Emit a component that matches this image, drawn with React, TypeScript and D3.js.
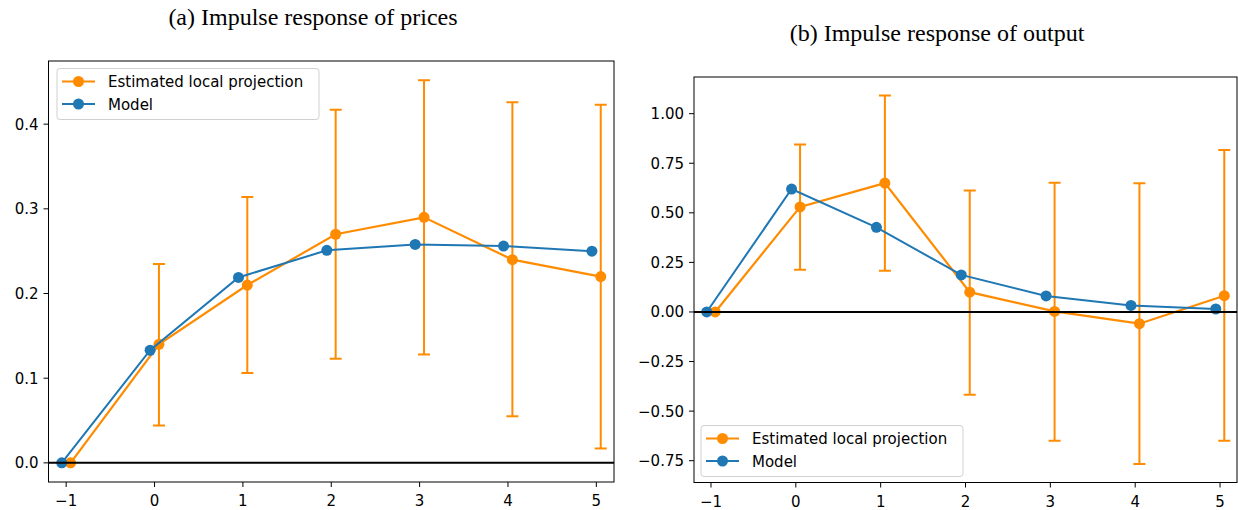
import * as d3 from "d3";

const steps = [-1, 0, 1, 2, 3, 4, 5];
const xTicks = [-1, 0, 1, 2, 3, 4, 5];

// (a) prices
const pricesLP = [0, 0.14, 0.21, 0.27, 0.29, 0.24, 0.22];
const pricesLPLow = [0, 0.044, 0.106, 0.123, 0.128, 0.055, 0.017];
const pricesLPHigh = [0, 0.235, 0.314, 0.417, 0.452, 0.426, 0.423];
const pricesModel = [0, 0.133, 0.219, 0.251, 0.258, 0.256, 0.25];
const pricesYTicks = [0, 0.1, 0.2, 0.3, 0.4];

// (b) output
const outputLP = [0, 0.53, 0.65, 0.1, 0.003, -0.059, 0.082];
const outputLPLow = [0, 0.213, 0.208, -0.417, -0.649, -0.767, -0.649];
const outputLPHigh = [0, 0.845, 1.092, 0.613, 0.652, 0.649, 0.817];
const outputModel = [0, 0.62, 0.427, 0.187, 0.081, 0.033, 0.015];
const outputYTicks = [-0.75, -0.5, -0.25, 0, 0.25, 0.5, 0.75, 1.0];

const ORANGE = "#ff8c00";
const BLUE = "#1f77b4";
const FONT = "DejaVu Sans, sans-serif";

interface PanelProps {
  title: string;
  titleX: number;
  titleY: number;
  box: { left: number; right: number; top: number; bottom: number };
  lp: number[];
  low: number[];
  high: number[];
  model: number[];
  yTicks: number[];
  yFmt: (v: number) => string;
  legend: { x: number; y: number };
}

function Panel({ title, titleX, titleY, box, lp, low, high, model, yTicks, yFmt, legend }: PanelProps) {
  const x = d3.scaleLinear().domain([-1.2, 5.2]).range([box.left, box.right]);
  // matplotlib-style 5% margins around all data incl. error bars
  const lo = Math.min(d3.min(low)!, d3.min(model)!, d3.min(lp)!);
  const hi = Math.max(d3.max(high)!, d3.max(model)!, d3.max(lp)!);
  const pad = (hi - lo) * 0.05;
  const y = d3.scaleLinear().domain([lo - pad, hi + pad]).range([box.bottom, box.top]);

  const lpPts = steps.map((s, i) => [x(s + 0.05), y(lp[i])] as [number, number]);
  const modelPts = steps.map((s, i) => [x(s - 0.05), y(model[i])] as [number, number]);
  const line = d3.line();
  const fmtMinus = (s: string) => s.replace("-", "\u2212");

  return (
    <g>
      <text x={titleX} y={titleY} textAnchor="middle" fontFamily="Liberation Serif, Times New Roman, serif" fontSize={24}>
        {title}
      </text>
      <defs>
        <clipPath id={`clip-${titleX}`}>
          <rect x={box.left} y={box.top} width={box.right - box.left} height={box.bottom - box.top} />
        </clipPath>
      </defs>
      <g clipPath={`url(#clip-${titleX})`}>
        {/* error bars */}
        {steps.map((s, i) =>
          high[i] - low[i] > 0 ? (
            <g key={`eb${i}`} stroke={ORANGE} strokeWidth={2}>
              <line x1={x(s + 0.05)} x2={x(s + 0.05)} y1={y(low[i])} y2={y(high[i])} />
              <line x1={x(s + 0.05) - 6} x2={x(s + 0.05) + 6} y1={y(low[i])} y2={y(low[i])} />
              <line x1={x(s + 0.05) - 6} x2={x(s + 0.05) + 6} y1={y(high[i])} y2={y(high[i])} />
            </g>
          ) : null
        )}
        <path d={line(lpPts) ?? ""} fill="none" stroke={ORANGE} strokeWidth={2.2} />
        {lpPts.map((p, i) => (
          <circle key={`lp${i}`} cx={p[0]} cy={p[1]} r={5.5} fill={ORANGE} />
        ))}
        <path d={line(modelPts) ?? ""} fill="none" stroke={BLUE} strokeWidth={2} />
        {modelPts.map((p, i) => (
          <circle key={`m${i}`} cx={p[0]} cy={p[1]} r={5.5} fill={BLUE} />
        ))}
        <line x1={box.left} x2={box.right} y1={y(0)} y2={y(0)} stroke="#000" strokeWidth={2} />
      </g>
      <rect x={box.left} y={box.top} width={box.right - box.left} height={box.bottom - box.top} fill="none" stroke="#000" strokeWidth={1} />
      {/* x axis */}
      {xTicks.map((t) => (
        <g key={`xt${t}`}>
          <line x1={x(t)} x2={x(t)} y1={box.bottom} y2={box.bottom + 5} stroke="#000" strokeWidth={1} />
          <text x={x(t)} y={box.bottom + 24} textAnchor="middle" fontFamily={FONT} fontSize={15}>
            {fmtMinus(String(t))}
          </text>
        </g>
      ))}
      {/* y axis */}
      {yTicks.map((t) => (
        <g key={`yt${t}`}>
          <line x1={box.left - 5} x2={box.left} y1={y(t)} y2={y(t)} stroke="#000" strokeWidth={1} />
          <text x={box.left - 10} y={y(t) + 5.5} textAnchor="end" fontFamily={FONT} fontSize={15}>
            {fmtMinus(yFmt(t))}
          </text>
        </g>
      ))}
      {/* legend */}
      <g transform={`translate(${legend.x},${legend.y})`}>
        <rect x={0} y={0} width={262} height={51} rx={3} fill="#fff" fillOpacity={0.8} stroke="#d0d0d0" strokeWidth={1} />
        <line x1={5} x2={38} y1={13} y2={13} stroke={ORANGE} strokeWidth={2.2} />
        <circle cx={21.5} cy={13} r={5.5} fill={ORANGE} />
        <text x={51} y={18.5} fontFamily={FONT} fontSize={15}>Estimated local projection</text>
        <line x1={5} x2={38} y1={35.5} y2={35.5} stroke={BLUE} strokeWidth={2} />
        <circle cx={21.5} cy={35.5} r={5.5} fill={BLUE} />
        <text x={51} y={41} fontFamily={FONT} fontSize={15}>Model</text>
      </g>
    </g>
  );
}

export default function App() {
  return (
    <svg
      width={1238}
      height={510}
      style={{ position: "absolute", left: 0, top: 0, background: "#fff" }}
    >
      <Panel
        title="(a) Impulse response of prices"
        titleX={313}
        titleY={25}
        box={{ left: 48.5, right: 614, top: 61, bottom: 482 }}
        lp={pricesLP}
        low={pricesLPLow}
        high={pricesLPHigh}
        model={pricesModel}
        yTicks={pricesYTicks}
        yFmt={d3.format(".1f")}
        legend={{ x: 57, y: 68.5 }}
      />
      <Panel
        title="(b) Impulse response of output"
        titleX={937}
        titleY={41}
        box={{ left: 694, right: 1237, top: 77, bottom: 482.5 }}
        lp={outputLP}
        low={outputLPLow}
        high={outputLPHigh}
        model={outputModel}
        yTicks={outputYTicks}
        yFmt={d3.format(".2f")}
        legend={{ x: 701, y: 425.5 }}
      />
    </svg>
  );
}
